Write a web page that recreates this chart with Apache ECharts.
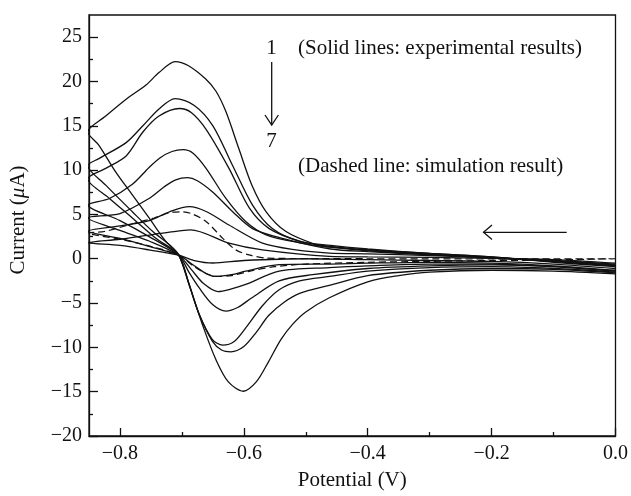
<!DOCTYPE html>
<html>
<head>
<meta charset="utf-8">
<script src="https://cdn.jsdelivr.net/npm/echarts@6/dist/echarts.min.js"></script>
<style>html,body{margin:0;padding:0;background:#fff}#c{width:631px;height:496px}</style>
</head>
<body>
<div id="c"></div>
<script>
// Tick values
const xMajorTicks = [-0.8, -0.6, -0.4, -0.2, 0.0];
const xMinorTicks = [-0.7, -0.5, -0.3, -0.1];
const yMajorTicks = [-20, -15, -10, -5, 0, 5, 10, 15, 20, 25];
const yMinorTicks = [-17.5, -12.5, -7.5, -2.5, 2.5, 7.5, 12.5, 17.5, 22.5];

// Experimental CVs 1..7 (scan from 0 V to -0.85 V and back), [potential V, current uA]
const cv1 = [[0,-0.9],[-0.1,-0.4],[-0.2,0.2],[-0.3,0.6],[-0.4,1.0],[-0.46,1.3],[-0.484,1.6],[-0.532,3.07],[-0.564,5.3],[-0.587,8.3],[-0.608,12.4],[-0.629,16.6],[-0.645,18.9],[-0.662,20.3],[-0.69,21.8],[-0.711,22.25],[-0.737,21.0],[-0.758,19.6],[-0.79,18.0],[-0.823,16.1],[-0.852,14.3],
  [-0.834,12.8],[-0.807,9.8],[-0.78,7.2],[-0.753,4.6],[-0.726,1.95],[-0.705,0.4],[-0.685,-3.6],[-0.665,-7.8],[-0.645,-11.4],[-0.625,-13.9],[-0.601,-14.95],[-0.58,-13.9],[-0.56,-11.6],[-0.54,-9.1],[-0.52,-7.3],[-0.5,-6.0],[-0.462,-4.4],[-0.4,-2.6],[-0.35,-1.9],[-0.3,-1.5],[-0.2,-1.3],[-0.1,-1.4],[0,-1.7]];
const cv2 = [[0,-0.8],[-0.1,-0.3],[-0.2,0.2],[-0.3,0.6],[-0.4,1.1],[-0.46,1.5],[-0.51,1.95],[-0.554,3.4],[-0.586,6.05],[-0.618,10.5],[-0.65,15.0],[-0.68,17.3],[-0.711,18.07],[-0.737,16.9],[-0.763,15.0],[-0.79,13.1],[-0.834,11.3],[-0.852,10.5],
  [-0.823,8.3],[-0.78,5.3],[-0.747,3.07],[-0.72,1.57],[-0.705,0.4],[-0.688,-3.0],[-0.672,-6.3],[-0.651,-9.3],[-0.636,-10.3],[-0.621,-10.5],[-0.6,-9.9],[-0.58,-8.3],[-0.56,-6.4],[-0.535,-4.9],[-0.51,-3.9],[-0.462,-3.0],[-0.4,-1.9],[-0.3,-1.3],[-0.2,-1.1],[-0.1,-1.2],[0,-1.6]];
const cv3 = [[0,-0.8],[-0.1,-0.3],[-0.2,0.15],[-0.3,0.55],[-0.4,1.0],[-0.46,1.4],[-0.51,2.0],[-0.559,3.4],[-0.591,5.7],[-0.624,10.2],[-0.661,14.6],[-0.685,16.5],[-0.704,16.95],[-0.737,16.1],[-0.763,14.3],[-0.79,11.6],[-0.823,10.2],[-0.852,9.0],
  [-0.817,6.8],[-0.78,4.6],[-0.742,2.3],[-0.705,0.4],[-0.688,-3.0],[-0.672,-6.3],[-0.651,-9.1],[-0.634,-9.75],[-0.615,-9.3],[-0.597,-7.8],[-0.57,-5.3],[-0.543,-3.5],[-0.51,-2.5],[-0.462,-2.0],[-0.4,-1.4],[-0.3,-1.0],[-0.2,-0.9],[-0.1,-1.1],[0,-1.5]];
const cv4 = [[0,-0.8],[-0.1,-0.3],[-0.2,0.1],[-0.3,0.5],[-0.4,0.9],[-0.46,1.3],[-0.51,1.8],[-0.564,2.7],[-0.597,4.2],[-0.629,6.8],[-0.661,10.2],[-0.682,11.9],[-0.698,12.3],[-0.716,12.1],[-0.735,11.4],[-0.753,10.3],[-0.78,8.4],[-0.817,6.8],[-0.852,6.05],
  [-0.8,4.3],[-0.753,2.5],[-0.705,0.4],[-0.688,-1.6],[-0.672,-3.3],[-0.65,-5.2],[-0.629,-5.9],[-0.61,-5.5],[-0.587,-4.4],[-0.543,-2.5],[-0.489,-1.8],[-0.4,-1.1],[-0.3,-0.8],[-0.2,-0.7],[-0.1,-0.9],[0,-1.4]];
const cv5 = [[0,-0.7],[-0.1,-0.25],[-0.2,0.1],[-0.3,0.45],[-0.4,0.8],[-0.46,1.1],[-0.538,2.3],[-0.586,3.4],[-0.618,5.3],[-0.65,7.5],[-0.675,8.8],[-0.691,9.15],[-0.71,8.9],[-0.729,8.1],[-0.753,6.8],[-0.8,5.1],[-0.852,4.6],
  [-0.8,3.2],[-0.753,2.0],[-0.705,0.4],[-0.685,-1.2],[-0.665,-2.8],[-0.642,-3.7],[-0.62,-3.4],[-0.597,-2.9],[-0.543,-1.4],[-0.462,-1.0],[-0.4,-0.8],[-0.3,-0.6],[-0.2,-0.6],[-0.1,-0.9],[0,-1.4]];
const cv6 = [[0,-0.6],[-0.1,-0.2],[-0.2,0.1],[-0.3,0.35],[-0.4,0.55],[-0.462,0.64],[-0.516,1.0],[-0.57,1.76],[-0.624,3.8],[-0.66,5.3],[-0.688,5.87],[-0.72,5.3],[-0.753,4.3],[-0.8,3.7],[-0.852,3.1],
  [-0.8,2.3],[-0.753,1.4],[-0.705,0.4],[-0.68,-0.8],[-0.66,-1.7],[-0.645,-2.0],[-0.62,-1.8],[-0.597,-1.4],[-0.543,-0.67],[-0.46,-0.6],[-0.4,-0.5],[-0.3,-0.4],[-0.2,-0.5],[-0.1,-0.8],[0,-1.3]];
const cv7 = [[0,-0.5],[-0.1,-0.1],[-0.2,0.05],[-0.3,0.15],[-0.4,0.2],[-0.462,0.27],[-0.57,1.0],[-0.624,1.76],[-0.686,3.25],[-0.72,3.0],[-0.76,2.6],[-0.8,2.2],[-0.852,1.8],
  [-0.8,1.5],[-0.753,1.0],[-0.705,0.4],[-0.68,-0.2],[-0.65,-0.48],[-0.6,-0.2],[-0.5,0.0],[-0.4,-0.1],[-0.3,-0.2],[-0.2,-0.3],[-0.1,-0.6],[0,-1.1]];
// Simulated CV (dashed)
const simCV = [[0,0.0],[-0.1,-0.02],[-0.2,-0.03],[-0.3,-0.02],[-0.4,0.0],[-0.5,0.02],[-0.564,0.08],[-0.59,0.4],[-0.613,1.0],[-0.634,2.3],[-0.661,4.2],[-0.685,5.1],[-0.70,5.3],[-0.72,5.2],[-0.745,4.6],[-0.777,4.0],[-0.825,3.07],[-0.852,2.9],
  [-0.8,2.2],[-0.75,1.4],[-0.705,0.4],[-0.68,-0.9],[-0.66,-1.7],[-0.645,-2.0],[-0.62,-1.9],[-0.59,-1.4],[-0.55,-0.9],[-0.5,-0.6],[-0.4,-0.4],[-0.3,-0.3],[-0.2,-0.2],[-0.1,-0.15],[0,0.0]];

const solidCurves = [cv1, cv2, cv3, cv4, cv5, cv6, cv7];

const FONT = 'Liberation Serif';
const INK = '#111';
const xFmt = v => { const s = Math.abs(v).toFixed(1); return (v < -1e-9 ? '\u2212' : '') + s; };
const yFmt = v => { const s = String(Math.abs(v)); return (v < 0 ? '\u2212' : '') + s; };

const chart = echarts.init(document.getElementById('c'), null, {renderer: 'canvas'});

const series = solidCurves.map((d, i) => ({
  type: 'line', name: 'cv' + (i + 1), data: d, smooth: 0.3, showSymbol: false, symbol: 'none',
  lineStyle: {color: INK, width: 1.3}, z: 3, silent: true
}));
series.push({
  type: 'line', name: 'sim', data: simCV, smooth: 0.3, showSymbol: false, symbol: 'none',
  lineStyle: {color: INK, width: 1.2, type: [7, 4]}, z: 3, silent: true
});

chart.setOption({
  animation: false,
  grid: {left: 89, right: 15, top: 15, bottom: 57, show: true, borderColor: INK, borderWidth: 1.3, backgroundColor: 'transparent'},
  xAxis: [{
    type: 'value', min: -0.85, max: 0, position: 'bottom',
    axisLine: {show: true, onZero: false, lineStyle: {color: INK, width: 1.3}},
    axisTick: {show: true, inside: true, length: 8, customValues: xMajorTicks, lineStyle: {color: INK, width: 1.3}},
    axisLabel: {customValues: xMajorTicks, formatter: xFmt, color: INK, fontFamily: FONT, fontSize: 20, margin: 8},
    splitLine: {show: false},
    name: 'Potential (V)', nameLocation: 'middle', nameGap: 34,
    nameTextStyle: {color: INK, fontFamily: FONT, fontSize: 21}
  }, {
    type: 'value', min: -0.85, max: 0, position: 'bottom',
    axisLine: {show: false, onZero: false},
    axisTick: {show: true, inside: true, length: 4, customValues: xMinorTicks, lineStyle: {color: INK, width: 1.3}},
    axisLabel: {show: false}, splitLine: {show: false}
  }],
  yAxis: [{
    type: 'value', min: -20, max: 27.5, position: 'left',
    axisLine: {show: true, onZero: false, lineStyle: {color: INK, width: 1.3}},
    axisTick: {show: true, inside: true, length: 9, customValues: yMajorTicks, lineStyle: {color: INK, width: 1.3}},
    axisLabel: {customValues: yMajorTicks, formatter: yFmt, color: INK, fontFamily: FONT, fontSize: 20, margin: 7},
    splitLine: {show: false}
  }, {
    type: 'value', min: -20, max: 27.5, position: 'left',
    axisLine: {show: false, onZero: false},
    axisTick: {show: true, inside: true, length: 4, customValues: yMinorTicks, lineStyle: {color: INK, width: 1.3}},
    axisLabel: {show: false}, splitLine: {show: false}
  }],
  series: series,
  graphic: [
    {type: 'text', x: 18, y: 220, rotation: Math.PI / 2, silent: true,
      style: {text: 'Current ({i|\u03bc}A)', fill: INK, font: '21px "' + FONT + '"', align: 'center', verticalAlign: 'middle',
        rich: {i: {fontStyle: 'italic', fontFamily: FONT, fontSize: 21, fill: INK}}}},
    {type: 'text', x: 271.5, y: 48, silent: true,
      style: {text: '1', fill: INK, font: '21px "' + FONT + '"', align: 'center', verticalAlign: 'middle'}},
    {type: 'line', silent: true, shape: {x1: 271.7, y1: 62, x2: 271.7, y2: 125}, style: {stroke: INK, lineWidth: 1.3}},
    {type: 'polyline', silent: true, shape: {points: [[265, 115], [271.7, 125], [278.4, 115]]}, style: {stroke: INK, lineWidth: 1.3, fill: null}},
    {type: 'text', x: 271.5, y: 141, silent: true,
      style: {text: '7', fill: INK, font: '21px "' + FONT + '"', align: 'center', verticalAlign: 'middle'}},
    {type: 'text', x: 298, y: 48, silent: true,
      style: {text: '(Solid lines: experimental results)', fill: INK, font: '21px "' + FONT + '"', align: 'left', verticalAlign: 'middle'}},
    {type: 'text', x: 298, y: 166, silent: true,
      style: {text: '(Dashed line: simulation result)', fill: INK, font: '21px "' + FONT + '"', align: 'left', verticalAlign: 'middle'}},
    {type: 'line', silent: true, shape: {x1: 483.5, y1: 232.3, x2: 566.7, y2: 232.3}, style: {stroke: INK, lineWidth: 1.3}},
    {type: 'polyline', silent: true, shape: {points: [[492, 225], [483.5, 232.3], [492, 239.6]]}, style: {stroke: INK, lineWidth: 1.3, fill: null}}
  ]
});
</script>
</body>
</html>
